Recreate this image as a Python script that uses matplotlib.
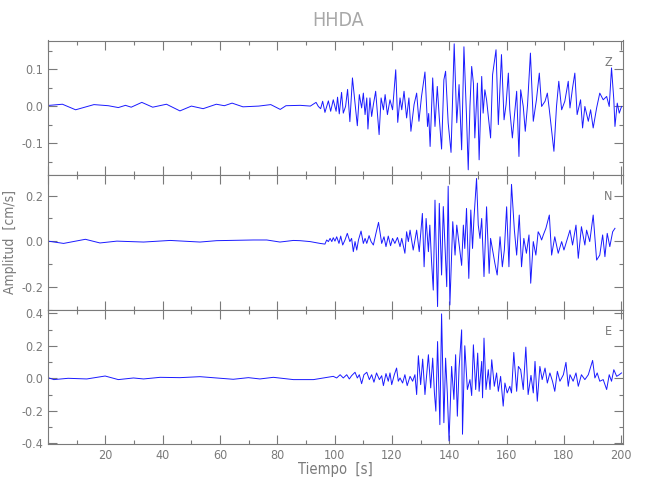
import matplotlib
matplotlib.use("Agg")
import matplotlib.pyplot as plt
from matplotlib.ticker import MultipleLocator, FormatStrFormatter

plt.rcParams['font.family'] = ['DejaVu Sans']
plt.rcParams['font.stretch'] = 'condensed'

station = "HHDA"
channels = ["Z", "N", "E"]

t_z = [0.5, 5.0, 9.6, 16.0, 21.0, 24.5, 27.0, 29.0, 32.7, 36.5, 41.3, 46.0, 50.0, 54.1, 58.7, 61.5,
       64.2, 68.0, 73.5, 77.7, 81.0, 83.0, 88.0, 91.5,
       93.5, 94.3, 95.1, 95.8, 96.6, 97.8, 98.6, 99.5, 100.5, 101.0, 101.6, 102.4, 103.0, 103.8,
       104.5, 105.3, 106.2, 107.1, 107.9, 108.6, 109.4, 110.0, 110.6, 111.2, 111.6, 112.3, 112.9,
       113.5, 114.3, 115.5, 116.2, 117.0, 117.6, 118.4, 119.3, 120.2, 121.3, 122.0, 122.8, 123.4,
       124.2, 125.1, 125.9, 126.6, 127.7, 128.6, 129.4, 130.3, 131.5, 132.4, 132.8, 133.3, 134.2,
       135.0, 135.8, 136.5, 137.3, 138.1, 138.7, 139.6, 140.6, 141.2, 141.7, 142.6, 143.4, 144.3,
       145.1, 146.0, 146.6, 147.2, 147.8, 148.4, 148.9, 149.8, 150.4, 151.3, 151.8, 152.4, 153.0,
       153.6, 154.4, 155.1, 156.3, 157.1, 158.2, 159.1, 159.8, 160.6, 161.1, 162.0, 162.9, 163.5,
       164.3, 164.9, 165.8, 166.5, 167.3, 168.3, 169.3, 170.4, 171.4, 172.2, 173.4, 174.2, 174.9,
       176.5, 177.4, 178.2, 179.2, 180.3, 181.5, 182.1, 183.0, 183.8, 184.6, 185.8, 186.5, 187.3,
       188.5, 189.3, 190.2, 191.4, 192.5, 193.7, 194.9, 195.8, 196.6, 197.4, 197.8, 198.6, 199.3,
       200.1]
z_vals = [0.002, 0.005, -0.010, 0.004, 0.001, -0.004, 0.002, -0.003, 0.010, -0.003, 0.005, -0.013,
          0.000, -0.007, 0.005, 0.001, 0.008, -0.002, 0.000, 0.004, -0.009, 0.001, 0.002, 0.000,
          0.010, -0.001, -0.007, 0.013, -0.017, 0.014, -0.014, 0.017, -0.014, 0.024, -0.021, 0.037,
          -0.019, -0.001, 0.045, -0.042, 0.076, 0.008, -0.053, 0.031, -0.005, 0.035, -0.023, 0.022,
          -0.062, 0.022, -0.028, 0.004, 0.040, -0.077, 0.022, -0.010, 0.031, -0.023, 0.017, -0.010,
          0.098, -0.044, 0.022, -0.010, 0.040, -0.032, 0.022, -0.068, 0.004, 0.035, -0.041, 0.026,
          0.092, -0.055, -0.020, -0.109, 0.076, -0.055, 0.053, -0.032, -0.116, 0.071, 0.094, -0.045,
          -0.125, 0.035, 0.168, -0.045, 0.058, -0.118, 0.160, -0.028, -0.172, 0.000, 0.107, 0.062,
          -0.086, 0.062, -0.145, 0.080, -0.019, 0.044, 0.017, -0.028, -0.086, 0.085, 0.152, -0.050,
          0.139, -0.037, 0.004, 0.089, -0.010, -0.086, -0.010, 0.040, -0.136, 0.044, -0.001, -0.068,
          0.004, 0.143, -0.041, 0.017, 0.089, -0.001, 0.013, 0.035, -0.010, -0.122, -0.001, 0.067,
          -0.010, 0.013, 0.067, -0.005, 0.049, 0.089, -0.023, 0.017, -0.059, -0.001, -0.041, -0.010,
          -0.059, -0.005, 0.035, 0.017, 0.026, -0.001, 0.103, 0.017, -0.055, 0.008, -0.019, -0.001]

# N component
t_n = [0.0, 5.4, 13.0, 18.1, 24.0, 33.3, 42.6, 53.0, 58.8, 71.6, 76.3, 80.9, 85.6,
       87.9, 91.4, 94.9, 96.6, 97.2, 97.8, 98.4, 99.0, 99.5, 100.1, 100.7, 101.5, 102.1, 102.8,
       103.6, 104.4, 105.3, 105.9, 106.5, 107.1, 107.7, 108.3, 109.2, 110.0, 110.6, 111.2, 112.0,
       112.7, 113.5, 114.4, 115.3, 116.4, 117.2, 117.9, 118.7, 119.5, 120.2, 121.0, 121.9, 122.8,
       123.4, 124.5, 125.1, 125.7, 126.3, 127.4, 128.6, 129.5, 130.6, 131.2, 131.9, 132.7, 133.2,
       133.8, 134.4, 135.0, 135.9, 136.5, 137.3, 137.9, 139.1, 139.6, 140.2, 141.2, 142.0, 142.6,
       144.3, 144.9, 145.4, 146.0, 146.8, 147.5, 148.1, 148.6, 149.5, 150.1, 150.7, 151.3, 152.1,
       153.0, 153.9, 154.4, 155.9, 156.7, 157.7, 158.5, 159.2, 160.0, 160.8, 161.7, 162.7, 163.5,
       164.4, 165.2, 166.0, 166.9, 167.8, 168.4, 169.3, 170.2, 171.0, 171.6, 172.2, 172.8, 173.7,
       174.9, 175.7, 176.8, 178.0, 179.2, 180.0, 180.9, 182.1, 183.0, 184.2, 185.0, 186.1, 187.3,
       187.9, 189.0, 190.2, 191.4, 192.5, 193.5, 194.3, 195.1, 196.0, 197.0, 197.8]
n_vals = [0.001, -0.009, 0.009, -0.007, 0.001, -0.003, 0.004, -0.003, 0.003, 0.006, 0.006, -0.003,
          0.004,
          0.003, -0.001, -0.009, -0.012, 0.006, -0.001, 0.013, -0.001, 0.016, 0.001, 0.020, -0.009,
          0.023, -0.016, 0.006, 0.035, -0.001, 0.013, -0.045, -0.001, -0.038, 0.006, 0.045, -0.009,
          0.013, -0.009, 0.025, -0.001, -0.016, 0.035, 0.083, -0.009, 0.020, -0.023, 0.023, -0.019,
          0.013, -0.009, 0.017, -0.023, 0.013, -0.052, 0.042, -0.001, 0.049, -0.038, 0.049, -0.045,
          0.122, -0.111, 0.100, -0.045, 0.071, -0.088, -0.213, 0.180, -0.285, 0.166, -0.147, 0.152,
          -0.198, 0.241, -0.278, 0.086, -0.060, 0.071,
          -0.105, 0.071, -0.031, 0.144, -0.162, 0.137, -0.031, 0.100, 0.275, 0.071, 0.013, 0.100,
          -0.154, 0.151, -0.140, 0.013, -0.096, -0.147, 0.020, -0.111, -0.038, 0.151, -0.111, 0.249,
          0.049, -0.060, 0.115, -0.111, 0.013, -0.052, 0.028, -0.183, -0.001, -0.060, 0.042, 0.028,
          0.006, 0.028, 0.057, 0.115, -0.060, 0.020, -0.052, -0.001, -0.038, -0.001, 0.049, -0.016,
          0.071, -0.074, 0.064, -0.016, 0.049, -0.001, 0.115, -0.082, -0.060, 0.028, -0.067, 0.035,
          -0.023, 0.042, 0.057]

# E component
t_e = [0.0, 2.0, 7.0, 13.5, 19.9, 24.5, 29.8, 33.3, 39.1, 46.0, 53.0, 58.8, 64.6, 69.9, 73.9,
       78.6, 85.6,
       87.9, 92.6, 96.0, 99.5, 100.7, 101.9, 103.0, 104.2, 105.1, 105.9, 107.1, 107.9, 108.6, 109.4,
       110.2, 111.2, 112.1, 112.9, 113.7, 114.6, 115.6, 116.4, 117.0, 117.9, 118.7, 119.3, 119.9,
       120.8, 121.6, 122.2, 122.8, 123.7, 124.5, 125.3, 126.3, 127.2, 128.0, 128.6, 129.2, 130.0,
       130.7, 131.5, 132.7, 133.5, 134.2, 134.8, 135.3, 135.9, 136.7, 137.3, 138.1, 138.7, 139.3,
       139.9, 140.8, 141.6, 142.2, 142.8, 143.4, 144.3, 144.6,
       145.4, 146.3, 147.2, 147.8, 148.4, 149.2, 149.9, 150.4, 151.3, 151.6, 152.1, 152.8, 153.6,
       154.2, 154.8, 155.7, 156.5, 157.1, 157.9, 158.8, 159.4, 160.2, 161.1, 161.7, 162.5, 163.5,
       164.1, 164.9, 165.8, 166.7, 167.5, 168.5, 169.3, 169.9, 170.7, 171.6, 172.4, 173.4, 174.2,
       175.1, 176.0, 176.8, 177.7, 178.6, 179.8, 180.7, 181.5, 182.1, 183.2, 184.2, 185.0, 186.1,
       187.3, 188.5, 190.0, 190.8, 191.6, 192.5, 193.7, 194.9, 195.8, 196.6, 197.4, 198.4, 199.3,
       200.1]
e_vals = [0.004, -0.008, 0.000, -0.004, 0.014, -0.008, 0.002, -0.004, 0.006, 0.004, 0.010, 0.002,
          -0.006, 0.004, -0.004, 0.006, -0.008,
          -0.008, -0.008, 0.002, 0.012, 0.002, 0.022, 0.002, 0.022, -0.004, 0.016, 0.037, 0.002,
          0.022, -0.033, 0.022, 0.037, -0.008, 0.022, -0.024, 0.033, -0.008, 0.016, -0.045, 0.029,
          -0.018, 0.033, -0.039, 0.022, 0.063, -0.018, 0.002, -0.029, 0.022, -0.045, 0.012, -0.018,
          0.022, -0.100, 0.139, -0.039, 0.118, -0.100, 0.145, -0.059, 0.124, -0.090, -0.202, 0.226,
          -0.285, 0.396, -0.273, 0.124, -0.090, -0.385, 0.073, -0.130, 0.145, -0.233, 0.063, 0.298,
          -0.344,
          0.200, -0.069, -0.008, -0.106, 0.206, -0.069, 0.155, -0.080, 0.104, -0.120, 0.247, -0.069,
          0.053, -0.069, 0.114, -0.049, 0.033, -0.080, 0.012, -0.171, -0.029, -0.090, -0.049, -0.090,
          0.159, -0.080, 0.073, 0.053, -0.069, 0.192, -0.100, 0.018, -0.090, 0.104, -0.141, 0.073,
          -0.008, 0.063, -0.029, 0.033, -0.018, -0.080, 0.043, -0.018, 0.022, 0.098, -0.049, 0.022,
          -0.018, 0.033, -0.049, 0.022, -0.008, 0.022, 0.110, 0.002, 0.033, -0.018, -0.008, -0.069,
          0.022, -0.018, 0.053, 0.012, 0.022, 0.033]

ylims = [(-0.186, 0.177), (-0.30, 0.29), (-0.404, 0.42)]
ymajor = [0.1, 0.2, 0.2]
yminor = [0.05, 0.1, 0.1]
traces = [(t_z, z_vals), (t_n, n_vals), (t_e, e_vals)]

grey = "#7a7a7a"
fig = plt.figure(figsize=(6.5, 5), dpi=100)

left, right = 0.074, 0.958
tops = [0.919, 0.65, 0.38]
bottoms = [0.65, 0.38, 0.112]

axes = []
for i in range(3):
    ax = fig.add_axes([left, bottoms[i], right - left, tops[i] - bottoms[i]])
    t, v = traces[i]
    ax.plot(t, v, color="#1a1aff", linewidth=0.7)
    ax.set_xlim(0, 200.5)
    ax.set_ylim(*ylims[i])
    ax.xaxis.set_major_locator(MultipleLocator(20))
    ax.xaxis.set_minor_locator(MultipleLocator(10))
    ax.yaxis.set_major_locator(MultipleLocator(ymajor[i]))
    ax.yaxis.set_minor_locator(MultipleLocator(yminor[i]))
    ax.yaxis.set_major_formatter(FormatStrFormatter('%.1f'))
    ax.tick_params(which='both', direction='in', top=True, right=True,
                   color=grey, labelcolor=grey, labelsize=9, width=0.8)
    ax.tick_params(which='major', length=6.5)
    ax.tick_params(which='minor', length=3.2)
    for s in ax.spines.values():
        s.set_color(grey)
        s.set_linewidth(0.8)
    if i < 2:
        ax.tick_params(labelbottom=False)
    else:
        ax.set_xticks(range(20, 201, 20))
    ax.text(0.975, 0.84, channels[i], transform=ax.transAxes, color=grey,
            fontsize=9, ha='center', va='center')
    axes.append(ax)

axes[2].set_xlabel("Tiempo  [s]", color=grey, fontsize=10.5, labelpad=0)
axes[1].set_ylabel("Amplitud  [cm/s]", color=grey, fontsize=10)
axes[1].yaxis.set_label_coords(-0.054, 0.5)
fig.text(0.52, 0.958, station, color="#a8a8a8", fontsize=14, ha='center', va='center')

fig.savefig("out.png", dpi=100)
